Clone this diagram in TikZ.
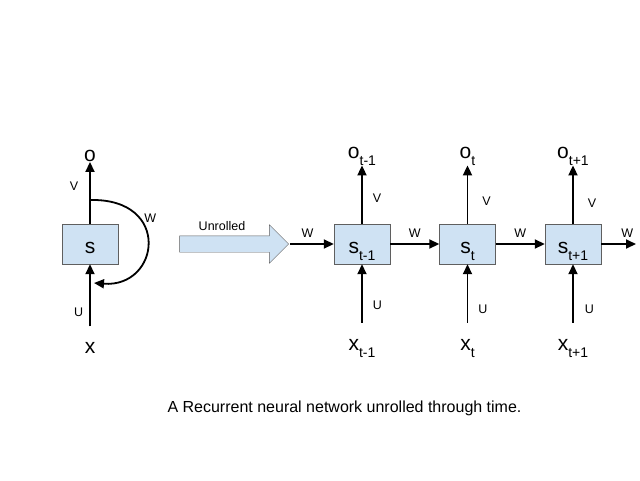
\documentclass[tikz,border=0pt]{standalone}
\usepackage{fontspec}
\setmainfont{Liberation Sans}
\usetikzlibrary{shapes, arrows.meta}
\definecolor{cellblue}{RGB}{207,226,243}
\definecolor{cellline}{RGB}{95,95,95}
\newcommand{\lowidx}[1]{\raisebox{-7pt}{\fontsize{14}{14}\selectfont #1}}
\tikzstyle{cell} = [rectangle, minimum width=56pt, minimum height=40pt, inner sep=0pt, text height=22pt, text depth=4pt, text centered, draw=cellline, fill=cellblue, font=\fontsize{21}{21}\selectfont]
\tikzstyle{io} = [inner sep=0pt, font=\fontsize{21}{21}\selectfont]
\tikzstyle{wt} = [inner sep=0pt, font=\fontsize{12.5}{12.5}\selectfont]
\tikzstyle{unroll} = [single arrow, minimum height=109pt, text height=8pt, text depth=8pt, single arrow head extend=11pt, inner sep=0pt, draw=cellline, fill=cellblue]
\tikzstyle{arrow} = [line width=1.8pt, -{Triangle[length=10pt,width=9pt]}]

\begin{document}
\begin{tikzpicture}[x=1pt, y=-1pt, node distance=105.5pt]
\useasboundingbox (0,0) rectangle (640,480);

% folded network
\node (s) [cell] at (90,244) {s};
\node (o) [io, above of=s, node distance=88pt] {o};
\node (x) [io, below of=s, node distance=104pt] {x};
\coordinate (loopout) at (90,200);
\coordinate (loopin) at (94,283);

\draw [arrow] (s) -- node [wt, left=11pt, pos=0.6] {V} (o);
\draw [arrow, shorten <=16pt] (x) -- node [wt, left=6pt, pos=0.38] {U} (s);
\draw [arrow] (loopout) .. controls (172,198) and (160,288) .. node [wt, right=4pt, pos=0.3] {W} (loopin);

% unrolled
\node (unroll) [unroll] at (230,244) {};
\node (unrolltext) [wt, anchor=base] at (222,230) {Unrolled};

\node (s1) [cell] at (362,244) {s\lowidx{t-1}};
\node (s2) [cell, right of=s1] {s\lowidx{t}};
\node (s3) [cell, right of=s2] {s\lowidx{t+1}};

\node (o1) [io, above of=s1, node distance=88pt] {o\lowidx{t-1}};
\node (o2) [io, above of=s2, node distance=88pt] {o\lowidx{t}};
\node (o3) [io, above of=s3, node distance=88pt] {o\lowidx{t+1}};

\node (x1) [io, below of=s1, node distance=104pt] {x\lowidx{t-1}};
\node (x2) [io, below of=s2, node distance=104pt] {x\lowidx{t}};
\node (x3) [io, below of=s3, node distance=104pt] {x\lowidx{t+1}};

\coordinate (win) at (290,244);
\coordinate (wout) at (636,244);

\draw [arrow] (win) -- node [wt, above=6pt, pos=0.4] {W} (s1);
\draw [arrow] (s1) -- node [wt, above=6pt] {W} (s2);
\draw [arrow] (s2) -- node [wt, above=6pt] {W} (s3);
\draw [arrow] (s3) -- node [wt, above=6pt, pos=0.75] {W} (wout);

\draw [arrow] (s1) -- node [wt, right=10pt, pos=0.43] {V} (o1);
\draw [arrow] (s2) -- node [wt, right=14pt, pos=0.38] {V} (o2);
\draw [arrow] (s3) -- node [wt, right=14pt, pos=0.36] {V} (o3);

\draw [arrow, shorten <=16pt] (x1) -- node [wt, right=10pt, pos=0.45] {U} (s1);
\draw [arrow, shorten <=16pt] (x2) -- node [wt, right=10pt, pos=0.4] {U} (s2);
\draw [arrow, shorten <=16pt] (x3) -- node [wt, right=11pt, pos=0.4] {U} (s3);

\node (caption) [anchor=base, inner sep=0pt, font=\fontsize{16}{16}\selectfont] at (344.5,412) {A Recurrent neural network unrolled through time.};

\end{tikzpicture}
\end{document}
